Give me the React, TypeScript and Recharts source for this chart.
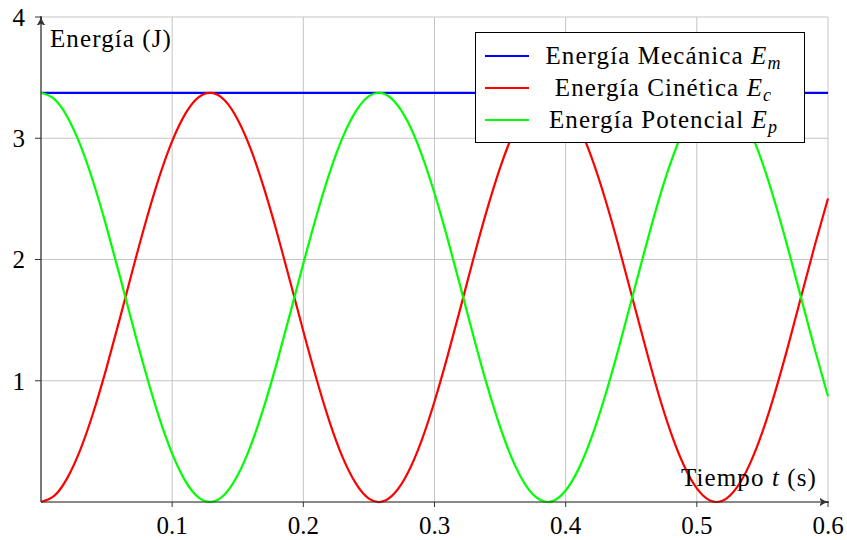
import React from 'react';
import { CartesianGrid, Legend, Line, LineChart, XAxis, YAxis } from 'recharts';

// tiempo (s), muestreado cada 0.01 s
const tiempos = [
  0, 0.01, 0.02, 0.03, 0.04, 0.05, 0.06, 0.07, 0.08, 0.09,
  0.1, 0.11, 0.12, 0.13, 0.14, 0.15, 0.16, 0.17, 0.18, 0.19,
  0.2, 0.21, 0.22, 0.23, 0.24, 0.25, 0.26, 0.27, 0.28, 0.29,
  0.3, 0.31, 0.32, 0.33, 0.34, 0.35, 0.36, 0.37, 0.38, 0.39,
  0.4, 0.41, 0.42, 0.43, 0.44, 0.45, 0.46, 0.47, 0.48, 0.49,
  0.5, 0.51, 0.52, 0.53, 0.54, 0.55, 0.56, 0.57, 0.58, 0.59, 0.6,
];

const energiaMecanica = 3.375;

const energiaCinetica = [
  0, 0.05, 0.197, 0.432, 0.742, 1.108, 1.508, 1.919, 2.315, 2.675,
  2.976, 3.201, 3.337, 3.374, 3.313, 3.153, 2.908, 2.589, 2.219, 1.817,
  1.408, 1.016, 0.661, 0.368, 0.154, 0.028, 0.003, 0.078, 0.248, 0.503,
  0.829, 1.205, 1.609, 2.02, 2.409, 2.756, 3.04, 3.244, 3.355, 3.368,
  3.28, 3.099, 2.834, 2.503, 2.124, 1.718, 1.311, 0.92, 0.579, 0.305,
  0.112, 0.013, 0.012, 0.112, 0.304, 0.578, 0.919, 1.304, 1.713, 2.12, 2.503,
];

const energiaPotencial = [
  3.375, 3.325, 3.178, 2.943, 2.633, 2.267, 1.867, 1.456, 1.06, 0.7,
  0.399, 0.174, 0.038, 0.001, 0.062, 0.222, 0.467, 0.786, 1.156, 1.558,
  1.967, 2.359, 2.714, 3.007, 3.221, 3.347, 3.372, 3.297, 3.127, 2.872,
  2.546, 2.17, 1.766, 1.355, 0.966, 0.619, 0.335, 0.131, 0.02, 0.007,
  0.095, 0.276, 0.541, 0.872, 1.251, 1.657, 2.064, 2.455, 2.796, 3.07,
  3.263, 3.362, 3.363, 3.263, 3.071, 2.797, 2.456, 2.071, 1.662, 1.255, 0.872,
];

const xTicks = [0.1, 0.2, 0.3, 0.4, 0.5, 0.6];
const yTicks = [1, 2, 3, 4];

const series = [
  { key: 'em', color: '#0000ff', name: 'Energía Mecánica', sub: 'm' },
  { key: 'ec', color: '#ff0000', name: 'Energía Cinética', sub: 'c' },
  { key: 'ep', color: '#00ff00', name: 'Energía Potencial', sub: 'p' },
];

const data = tiempos.map((t, i) => ({
  t,
  em: energiaMecanica,
  ec: energiaCinetica[i],
  ep: energiaPotencial[i],
}));

const FONT = 'Liberation Serif, Tinos, Noto Serif, DejaVu Serif, Times New Roman, serif';
const AXIS = '#333333';

const tickStyle = { fontFamily: FONT, fontSize: 25, fill: '#000' };

const LegendBox = () => (
  <div
    style={{
      border: '1px solid #000',
      background: '#fff',
      width: 330,
      padding: '7px 0 6px 0',
      fontFamily: FONT,
      fontSize: 25,
      letterSpacing: 1.1,
      color: '#000',
      boxSizing: 'border-box',
      lineHeight: '32px',
    }}
  >
    {series.map((s) => (
      <div key={s.key} style={{ display: 'flex', alignItems: 'center', height: 32 }}>
        <div style={{ width: 44, height: 2, background: s.color, marginLeft: 9 }} />
        <div style={{ flex: 1, textAlign: 'center', paddingRight: 6, whiteSpace: 'nowrap' }}>
          {s.name} <i>E</i>
          <sub style={{ fontSize: 18, verticalAlign: -5, lineHeight: 0 }}>
            <i>{s.sub}</i>
          </sub>
        </div>
      </div>
    ))}
  </div>
);

export default function App() {
  return (
    <div style={{ position: 'absolute', left: 0, top: 0, background: '#fff' }}>
      <svg width={0} height={0} style={{ position: 'absolute' }}>
        <defs>
          <marker
            id="flecha"
            viewBox="0 0 10 10"
            refX={9}
            refY={5}
            markerWidth={9}
            markerHeight={9}
            markerUnits="userSpaceOnUse"
            orient="auto-start-reverse"
          >
            <path d="M0,1 Q5,5 10,5 Q5,5 0,9 L2,5 Z" fill={AXIS} stroke={AXIS} strokeWidth={1} />
          </marker>
        </defs>
      </svg>
      <LineChart width={847} height={540} data={data} margin={{ top: 17, right: 19, left: 0, bottom: 0 }}>
        <CartesianGrid stroke="#c4c4c4" strokeWidth={1} />
        <XAxis
          dataKey="t"
          type="number"
          domain={[0, 0.6]}
          ticks={xTicks}
          height={38}
          tick={tickStyle}
          tickSize={5}
          tickMargin={9}
          tickLine={{ stroke: AXIS }}
          axisLine={{ stroke: AXIS, strokeWidth: 1.2, markerEnd: 'url(#flecha)' }}
          label={{
            content: ({ viewBox }: any) => (
              <text
                x={viewBox.x + viewBox.width - 11}
                y={viewBox.y - 16}
                textAnchor="end"
                fontFamily={FONT}
                fontSize={25}
                letterSpacing={1.1}
                fill="#000"
              >
                Tiempo <tspan fontStyle="italic">t</tspan> (s)
              </text>
            ),
          }}
        />
        <YAxis
          type="number"
          domain={[0, 4]}
          ticks={yTicks}
          width={41}
          tick={tickStyle}
          tickSize={6}
          tickMargin={10}
          tickLine={{ stroke: AXIS }}
          axisLine={{ stroke: AXIS, strokeWidth: 1.2, markerStart: 'url(#flecha)' }}
          label={{
            content: ({ viewBox }: any) => (
              <text
                x={viewBox.x + viewBox.width + 9}
                y={viewBox.y + 30}
                fontFamily={FONT}
                fontSize={25}
                letterSpacing={1.1}
                fill="#000"
              >
                Energía (J)
              </text>
            ),
          }}
        />
        {series.map((s) => (
          <Line
            key={s.key}
            dataKey={s.key}
            type="natural"
            stroke={s.color}
            strokeWidth={2.2}
            dot={false}
            isAnimationActive={false}
          />
        ))}
        <Legend
          content={() => <LegendBox />}
          wrapperStyle={{
            position: 'absolute',
            left: 475,
            top: 32,
            width: 0,
            height: 0,
            overflow: 'visible',
          }}
        />
      </LineChart>
    </div>
  );
}
